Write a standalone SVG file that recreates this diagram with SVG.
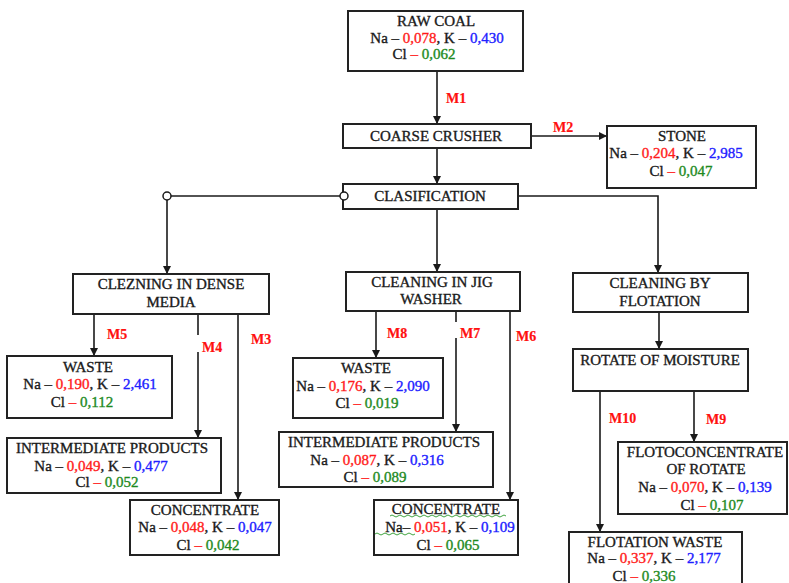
<svg xmlns="http://www.w3.org/2000/svg" width="789" height="583" viewBox="0 0 789 583">
<defs>
<marker id="ah" markerUnits="userSpaceOnUse" markerWidth="9" markerHeight="9" refX="8" refY="4" orient="auto">
<path d="M0,0 L8,4 L0,8 z" fill="#1a1a1a"/>
</marker>
<style>
rect.b{fill:#fff;stroke:#222;stroke-width:2}
text{font-family:"Liberation Serif","Times New Roman",serif;font-size:15px;fill:#1a1a1a;text-anchor:middle;stroke:#1a1a1a;stroke-width:0.35}
text.m{font-weight:bold;font-size:14px;fill:#ff1010;stroke:#ff1010;stroke-width:0.2;text-anchor:start}
.r{fill:#ff1a1a;stroke:#ff1a1a}
.bl{fill:#2020ff;stroke:#2020ff}
.g{fill:#1e8a1e;stroke:#1e8a1e}
.c line,.c path{stroke:#1a1a1a;stroke-width:1.6;fill:none}
.c circle{fill:#fff;stroke:#1a1a1a;stroke-width:1.5}
</style>
</defs>
<rect width="789" height="583" fill="#fff"/>

<g id="connectors" class="c">
<line x1="437" y1="71" x2="437" y2="124" marker-end="url(#ah)"/>
<line x1="531" y1="136" x2="607" y2="136" marker-end="url(#ah)"/>
<line x1="437" y1="148" x2="437" y2="184" marker-end="url(#ah)"/>
<line x1="167" y1="196" x2="343" y2="196"/>
<line x1="167" y1="200" x2="167" y2="274" marker-end="url(#ah)"/>
<line x1="437" y1="209" x2="437" y2="272" marker-end="url(#ah)"/>
<path d="M518,196 H658 V273" marker-end="url(#ah)"/>
<circle cx="167" cy="196" r="4"/>
<line x1="94" y1="314" x2="94" y2="356" marker-end="url(#ah)"/>
<line x1="198" y1="314" x2="198" y2="335"/>
<line x1="198" y1="352" x2="198" y2="438" marker-end="url(#ah)"/>
<line x1="238" y1="314" x2="238" y2="500" marker-end="url(#ah)"/>
<line x1="376" y1="311" x2="376" y2="358" marker-end="url(#ah)"/>
<line x1="456" y1="311" x2="456" y2="322"/>
<line x1="456" y1="338" x2="456" y2="432" marker-end="url(#ah)"/>
<line x1="510" y1="311" x2="510" y2="500" marker-end="url(#ah)"/>
<line x1="659" y1="312" x2="659" y2="349" marker-end="url(#ah)"/>
<line x1="600" y1="391" x2="600" y2="532" marker-end="url(#ah)"/>
<line x1="694" y1="391" x2="694" y2="442" marker-end="url(#ah)"/>
</g>

<g id="labels">
<text class="m" x="446" y="103">M1</text>
<text class="m" x="553" y="132">M2</text>
<text class="m" x="251" y="344">M3</text>
<text class="m" x="202" y="352">M4</text>
<text class="m" x="107" y="339">M5</text>
<text class="m" x="516" y="341">M6</text>
<text class="m" x="460" y="338">M7</text>
<text class="m" x="387" y="338">M8</text>
<text class="m" x="706" y="424">M9</text>
<text class="m" x="609" y="423">M10</text>
</g>

<g id="raw-coal">
<rect class="b" x="348" y="11" width="175" height="60"/>
<text x="436" y="26">RAW COAL</text>
<text x="437" y="43">Na – <tspan class="r">0,078</tspan>, K – <tspan class="bl">0,430</tspan></text>
<text x="424" y="59">Cl <tspan class="r">–</tspan> <tspan class="g">0,062</tspan></text>
</g>

<g id="coarse-crusher">
<rect class="b" x="343" y="124" width="188" height="24"/>
<text x="436" y="141">COARSE CRUSHER</text>
</g>

<g id="stone">
<rect class="b" x="607" y="126" width="149" height="62"/>
<text x="682" y="141">STONE</text>
<text x="676" y="158">Na – <tspan class="r">0,204</tspan>, K – <tspan class="bl">2,985</tspan></text>
<text x="681" y="176">Cl <tspan class="r">–</tspan> <tspan class="g">0,047</tspan></text>
</g>

<g id="clasification">
<rect class="b" x="343" y="184" width="175" height="25"/>
<circle cx="344" cy="196" r="4" fill="#fff" stroke="#1a1a1a" stroke-width="1.5"/>
<text x="430" y="201">CLASIFICATION</text>
</g>

<g id="dense-media">
<rect class="b" x="73" y="274" width="196" height="40"/>
<text x="171" y="289">CLEZNING IN DENSE</text>
<text x="171" y="307">MEDIA</text>
</g>

<g id="jig-washer">
<rect class="b" x="346" y="272" width="174" height="39"/>
<text x="432" y="287">CLEANING IN JIG</text>
<text x="431" y="304">WASHER</text>
</g>

<g id="flotation">
<rect class="b" x="573" y="273" width="175" height="39"/>
<text x="660" y="288">CLEANING BY</text>
<text x="660" y="306">FLOTATION</text>
</g>

<g id="rotate-moisture">
<rect class="b" x="573" y="349" width="175" height="42"/>
<text x="660" y="365">ROTATE OF MOISTURE</text>
</g>

<g id="waste-1">
<rect class="b" x="7" y="356" width="165" height="62"/>
<text x="88" y="372">WASTE</text>
<text x="90" y="389">Na – <tspan class="r">0,190</tspan>, K – <tspan class="bl">2,461</tspan></text>
<text x="82" y="407">Cl <tspan class="r">–</tspan> <tspan class="g">0,112</tspan></text>
</g>

<g id="intermediate-1">
<rect class="b" x="7" y="438" width="214" height="55"/>
<text x="112" y="453">INTERMEDIATE  PRODUCTS</text>
<text x="101" y="471">Na – <tspan class="r">0,049</tspan>, K – <tspan class="bl">0,477</tspan></text>
<text x="107" y="487">Cl <tspan class="r">–</tspan> <tspan class="g">0,052</tspan></text>
</g>

<g id="concentrate-1">
<rect class="b" x="130" y="500" width="149" height="55"/>
<text x="205" y="515">CONCENTRATE</text>
<text x="205" y="532">Na – <tspan class="r">0,048</tspan>, K – <tspan class="bl">0,047</tspan></text>
<text x="208" y="550">Cl <tspan class="r">–</tspan> <tspan class="g">0,042</tspan></text>
</g>

<g id="waste-2">
<rect class="b" x="293" y="358" width="150" height="60"/>
<text x="366" y="373">WASTE</text>
<text x="363" y="391">Na – <tspan class="r">0,176</tspan>, K – <tspan class="bl">2,090</tspan></text>
<text x="367" y="408">Cl <tspan class="r">–</tspan> <tspan class="g">0,019</tspan></text>
</g>

<g id="intermediate-2">
<rect class="b" x="279" y="432" width="214" height="55"/>
<text x="384" y="447">INTERMEDIATE  PRODUCTS</text>
<text x="377" y="465">Na – <tspan class="r">0,087</tspan>, K – <tspan class="bl">0,316</tspan></text>
<text x="375" y="482">Cl <tspan class="r">–</tspan> <tspan class="g">0,089</tspan></text>
</g>

<g id="concentrate-2">
<rect class="b" x="374" y="500" width="144" height="55"/>
<text x="446" y="514">CONCENTRATE</text>
<text x="450" y="532">Na– <tspan class="r">0,051</tspan>, K – <tspan class="bl">0,109</tspan></text>
<text x="448" y="550">Cl <tspan class="r">–</tspan> <tspan class="g">0,065</tspan></text>
<path d="M390,516 q2,-2 4,0 t4,0 t4,0 t4,0 t4,0 t4,0 t4,0 t4,0 t4,0 t4,0 t4,0 t4,0 t4,0 t4,0 t4,0 t4,0 t4,0 t4,0 t4,0 t4,0 t4,0 t4,0 t4,0 t4,0 t4,0 t4,0 t4,0 t4,0 t4,0" fill="none" stroke="#2a9a2a" stroke-width="0.9"/>
<path d="M375,534 q2,-2 4,0 t4,0 t4,0 t4,0 t4,0 t4,0 t4,0 t4,0 t4,0 t4,0" fill="none" stroke="#2a9a2a" stroke-width="0.9"/>
</g>

<g id="flotoconcentrate">
<rect class="b" x="618" y="442" width="169" height="72"/>
<text x="705" y="457">FLOTOCONCENTRATE</text>
<text x="706" y="474">OF ROTATE</text>
<text x="705" y="492">Na – <tspan class="r">0,070</tspan>, K – <tspan class="bl">0,139</tspan></text>
<text x="712" y="510">Cl <tspan class="r">–</tspan> <tspan class="g">0,107</tspan></text>
</g>

<g id="flotation-waste">
<rect class="b" x="569" y="532" width="173" height="60"/>
<text x="655" y="547">FLOTATION WASTE</text>
<text x="654" y="563">Na – <tspan class="r">0,337</tspan>, K – <tspan class="bl">2,177</tspan></text>
<text x="644" y="581">Cl <tspan class="r">–</tspan> <tspan class="g">0,336</tspan></text>
</g>
</svg>
